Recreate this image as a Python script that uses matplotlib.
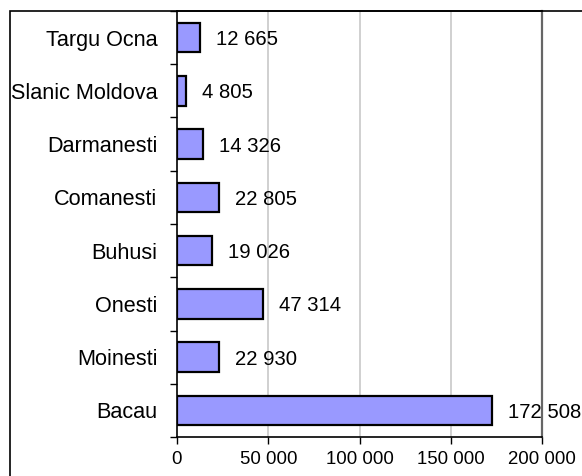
import matplotlib
matplotlib.use("Agg")
import matplotlib.pyplot as plt
from matplotlib.patches import Rectangle
from matplotlib.ticker import FuncFormatter

cities = ["Targu Ocna", "Slanic Moldova", "Darmanesti", "Comanesti",
          "Buhusi", "Onesti", "Moinesti", "Bacau"]
population = [12665, 4805, 14326, 22805, 19026, 47314, 22930, 172508]
x_ticks = [0, 50000, 100000, 150000, 200000]

plt.rcParams['font.family'] = ['Liberation Sans', 'DejaVu Sans']
FS = 13.4
FS_VAL = 14.6
FS_CAT = 15.6

def fmt(v):
    return f"{int(v):,}".replace(",", " ")

fig = plt.figure(figsize=(5.82, 4.76), dpi=100)
ax = fig.add_axes([177/582, 1 - 437/476, (542-177)/582, (437-11)/476])

n = len(cities)
ypos = list(range(n))[::-1]
ax.barh(ypos, population, height=0.55, color="#9999FF", edgecolor="black",
        linewidth=1.6, zorder=3)
for y, v in zip(ypos, population):
    ax.annotate(fmt(v), xy=(v, y), xytext=(16, -2), textcoords="offset pixels",
                ha="left", va="center", fontsize=FS_VAL, zorder=4)

ax.set_xlim(0, 200000)
ax.set_ylim(-0.5, n - 0.5)
ax.set_xticks(x_ticks)
ax.xaxis.set_major_formatter(FuncFormatter(lambda v, p: fmt(v)))
ax.set_yticks(ypos)
ax.set_yticklabels(cities, fontsize=FS_CAT)
ax.tick_params(axis="y", length=0, pad=14)
ax.set_yticks([i - 0.5 for i in range(n + 1)], minor=True)
ax.tick_params(axis="y", which="minor", length=5, width=1, direction="out")
ax.tick_params(axis="x", length=5, width=1, direction="out", labelsize=FS, pad=5)

for xv in x_ticks[1:-1]:
    ax.axvline(xv, color="#C8C8C8", linewidth=1.2, zorder=1)

ax.spines["left"].set_linewidth(1.2)
ax.spines["bottom"].set_linewidth(1.2)
ax.spines["top"].set_linewidth(1.2)
ax.spines["right"].set_color("#666666")
ax.spines["right"].set_linewidth(1.6)

fig.patches.append(Rectangle((10/582, -0.1), 1.2, 1.1 - 11/476,
                             transform=fig.transFigure, fill=False,
                             edgecolor="black", linewidth=1.2, zorder=0))

fig.savefig("out.png", dpi=100)
